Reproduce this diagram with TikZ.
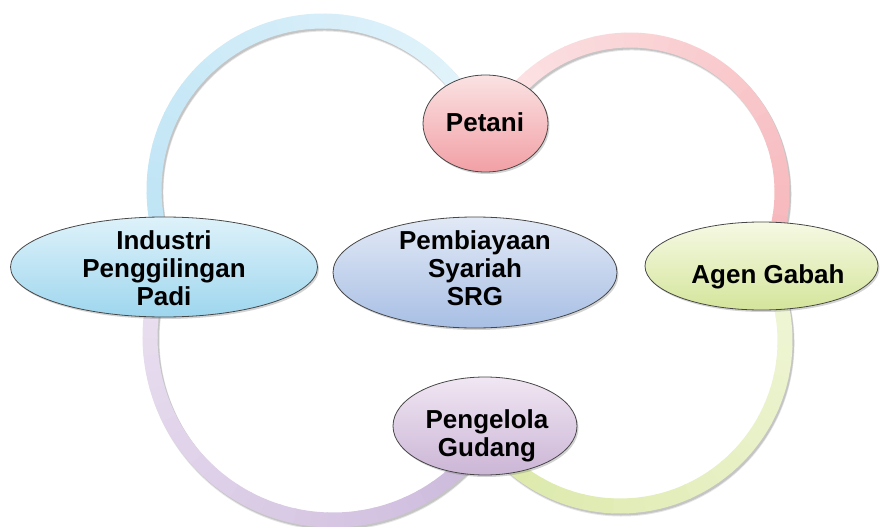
\documentclass[tikz,border=0pt]{standalone}
\usepackage{fontspec}
\setmainfont{Liberation Sans}
\usetikzlibrary{shapes.geometric,shadows}
\definecolor{petT}{RGB}{251,226,227}
\definecolor{petB}{RGB}{241,160,165}
\definecolor{indT}{RGB}{222,242,250}
\definecolor{indB}{RGB}{158,214,238}
\definecolor{pemT}{RGB}{226,233,246}
\definecolor{pemB}{RGB}{168,191,228}
\definecolor{agT}{RGB}{246,249,228}
\definecolor{agB}{RGB}{212,229,155}
\definecolor{pgT}{RGB}{241,230,243}
\definecolor{pgB}{RGB}{203,182,214}
\definecolor{arcBlueA}{RGB}{190,228,245}
\definecolor{arcBlueB}{RGB}{228,244,251}
\definecolor{arcPinkA}{RGB}{252,228,230}
\definecolor{arcPinkB}{RGB}{246,182,186}
\definecolor{arcGreenA}{RGB}{240,246,216}
\definecolor{arcGreenB}{RGB}{220,233,170}
\definecolor{arcPurpA}{RGB}{205,186,220}
\definecolor{arcPurpB}{RGB}{234,224,241}
\newcommand\gradarc[6]{%
  \draw[line width=16pt, black, opacity=0.10] ([shift={(1.5,2.5)}]#1) ++(#3:#2) arc[start angle=#3, end angle=#4, radius=#2];
  \draw[line width=15pt, black, opacity=0.14] ([shift={(1.5,2)}]#1) ++(#3:#2) arc[start angle=#3, end angle=#4, radius=#2];
  \foreach \k in {1,...,30}{%
    \pgfmathsetmacro\aa{#3+(#4-#3)*(\k-1)/30}%
    \pgfmathsetmacro\bb{#3+(#4-#3)*\k/30+0.4}%
    \pgfmathtruncatemacro\pp{100*(\k-0.5)/30}%
    \draw[line width=15pt, draw={#6!\pp!#5}] (#1) ++(\aa:#2) arc[start angle=\aa, end angle=\bb, radius=#2];
  }}
\tikzset{
  oval/.style={ellipse, draw=black!72, line width=0.8pt, inner sep=0pt,
    drop shadow={opacity=0.35, shadow xshift=1.5pt, shadow yshift=-2pt}},
  lbl/.style={font=\bfseries\fontsize{26}{28.3}\selectfont, align=center, inner sep=0pt, text=black}
}
\begin{document}
\begin{tikzpicture}[x=1pt,y=-1pt]
\useasboundingbox (0,0) rectangle (881,527);
% arc centres
\coordinate (cblue) at (323,190);
\coordinate (cpink) at (630,192);
\coordinate (cgreen) at (620,341);
\coordinate (cpurp) at (333,337);
% rings
\gradarc{cblue}{169}{168}{330}{arcBlueA}{arcBlueB}
\gradarc{cpink}{152}{212}{380}{arcPinkA}{arcPinkB}
\gradarc{cgreen}{165}{-25}{135}{arcGreenA}{arcGreenB}
\gradarc{cpurp}{183}{40}{195}{arcPurpA}{arcPurpB}
% ellipses
\node[oval, minimum width=125pt, minimum height=97pt, top color=petT, bottom color=petB] (petani) at (485.5,123.5) {};
\node[oval, minimum width=307pt, minimum height=100pt, top color=indT, bottom color=indB] (industri) at (164,267) {};
\node[oval, minimum width=284pt, minimum height=111pt, top color=pemT, bottom color=pemB] (pembiayaan) at (475,272.5) {};
\node[oval, minimum width=233pt, minimum height=88pt, top color=agT, bottom color=agB] (agen) at (761.5,266) {};
\node[oval, minimum width=184pt, minimum height=98pt, top color=pgT, bottom color=pgB] (pengelola) at (485,426) {};
% labels
\node[lbl, anchor=base] (tpetani) at (485,131) {Petani};
\node[lbl] (tindustri) at (164,268.2) {Industri\\Penggilingan\\Padi};
\node[lbl] (tpembiayaan) at (475,268.2) {Pembiayaan\\Syariah\\SRG};
\node[lbl, anchor=base] (tagen) at (768,283.3) {Agen Gabah};
\node[lbl] (tpengelola) at (487,435.8) {Pengelola\\Gudang};
\end{tikzpicture}
\end{document}
